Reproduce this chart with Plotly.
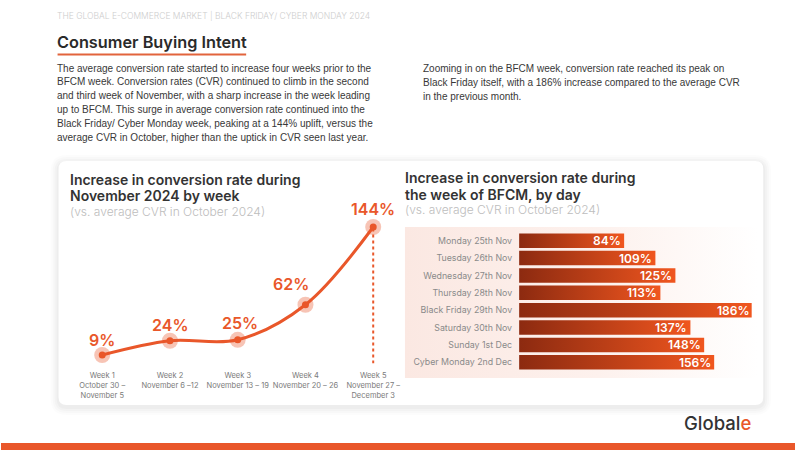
import plotly.graph_objects as go

# ---------------- data ----------------
week_names = ["Week 1", "Week 2", "Week 3", "Week 4", "Week 5"]
week_dates = ["October 30 –<br>November 5", "November 6 –12", "November 13 – 19",
              "November 20 – 26", "November 27 –<br>December 3"]
week_cvr = [9, 24, 25, 62, 144]

day_names = ["Monday 25th Nov", "Tuesday 26th Nov", "Wednesday 27th Nov", "Thursday 28th Nov",
             "Black Friday 29th Nov", "Saturday 30th Nov", "Sunday 1st Dec", "Cyber Monday 2nd Dec"]
day_cvr = [84, 109, 125, 113, 186, 137, 148, 156]

header_text = "THE GLOBAL E-COMMERCE MARKET | BLACK FRIDAY/ CYBER MONDAY 2024"
page_title = "Consumer Buying Intent"
body_left = [
    "The average conversion rate started to increase four weeks prior to the",
    "BFCM week. Conversion rates (CVR) continued to climb in the second",
    "and third week of November, with a sharp increase in the week leading",
    "up to BFCM. This surge in average conversion rate continued into the",
    "Black Friday/ Cyber Monday week, peaking at a 144% uplift, versus the",
    "average CVR in October, higher than the uptick in CVR seen last year.",
]
body_right = [
    "Zooming in on the BFCM week, conversion rate reached its peak on",
    "Black Friday itself, with a 186% increase compared to the average CVR",
    "in the previous month.",
]
left_title = ["Increase in conversion rate during", "November 2024 by week"]
right_title = ["Increase in conversion rate during", "the week of BFCM, by day"]
subtitle = "(vs. average CVR in October 2024)"

# ---------------- styles ----------------
W, H = 800, 450
ORANGE = "#E9572A"
DARK_RED = "#8C2A10"
BAR_ORANGE = "#F0561F"
TITLE_FONT = "Inter"
BODY_FONT = "Liberation Sans"
PAD = 3  # annotation inner padding compensation


def ydom(top_px, bot_px):
    return [1 - bot_px / H, 1 - top_px / H]


def rrect(x0, y0, x1, y1, r):
    return (f"M {x0+r},{y0} L {x1-r},{y0} Q {x1},{y0} {x1},{y0+r} "
            f"L {x1},{y1-r} Q {x1},{y1} {x1-r},{y1} L {x0+r},{y1} "
            f"Q {x0},{y1} {x0},{y1-r} L {x0},{y0+r} Q {x0},{y0} {x0+r},{y0} Z")


fig = go.Figure()

# ---------- decoration layer (pixel axes x/y) ----------
px_panel = [407, 762, 762, 407, 407]
py_panel = [227, 227, 378, 378, 227]
fig.add_trace(go.Scatter(
    x=px_panel, y=py_panel, fill="toself", mode="lines", line=dict(width=0),
    fillgradient=dict(type="horizontal",
                      colorscale=[[0, "#FBE8E2"], [0.55, "#FDF1ED"], [1, "#FFFFFF"]]),
    hoverinfo="skip", showlegend=False, xaxis="x", yaxis="y"))

# ---------- line chart (x2/y2) ----------
xw = list(range(len(week_cvr)))
fig.add_trace(go.Scatter(
    x=[xw[-1], xw[-1]], y=[0, week_cvr[-1]], mode="lines",
    line=dict(color=ORANGE, width=2, dash="dot"),
    hoverinfo="skip", showlegend=False, xaxis="x2", yaxis="y2", cliponaxis=False))
fig.add_trace(go.Scatter(
    x=xw, y=week_cvr, mode="lines",
    line=dict(color=ORANGE, width=3, shape="spline", smoothing=1),
    hoverinfo="skip", showlegend=False, xaxis="x2", yaxis="y2", cliponaxis=False))
fig.add_trace(go.Scatter(
    x=xw, y=week_cvr, mode="markers",
    marker=dict(color="rgba(233,87,42,0.35)", size=16),
    hoverinfo="skip", showlegend=False, xaxis="x2", yaxis="y2", cliponaxis=False))
fig.add_trace(go.Scatter(
    x=xw, y=week_cvr, mode="markers",
    marker=dict(color=ORANGE, size=7),
    hoverinfo="skip", showlegend=False, xaxis="x2", yaxis="y2", cliponaxis=False))

label_shift = [(0, 15), (0, 16), (2, 17), (-14, 21), (0, 18)]
annotations = []
for i, v in enumerate(week_cvr):
    dx, dy = label_shift[i]
    annotations.append(dict(
        x=xw[i], y=v, xref="x2", yref="y2", text=f"{v}%", showarrow=False,
        xshift=dx, yshift=dy, xanchor="center", yanchor="middle",
        font=dict(family=TITLE_FONT, size=16, color=ORANGE, weight=600)))

# ---------- bar chart (x3/y3) ----------
yd = list(range(len(day_cvr)))
half = 0.42
for i, v in enumerate(day_cvr):
    fig.add_trace(go.Scatter(
        x=[0, v, v, 0, 0], y=[yd[i] - half, yd[i] - half, yd[i] + half, yd[i] + half, yd[i] - half],
        fill="toself", mode="lines", line=dict(width=0),
        fillgradient=dict(type="horizontal", colorscale=[[0, DARK_RED], [1, BAR_ORANGE]]),
        hoverinfo="skip", showlegend=False, xaxis="x3", yaxis="y3"))
    annotations.append(dict(
        x=v, y=yd[i], xref="x3", yref="y3", text=f"{v}%", showarrow=False,
        xanchor="right", yanchor="middle", xshift=-1,
        font=dict(family=TITLE_FONT, size=12, color="white", weight=600)))

# ---------- texts ----------
def txt(x, y, s, size, color, family=BODY_FONT, weight=400, xanchor="left"):
    annotations.append(dict(x=x - PAD, y=y, xref="x", yref="y", text=s, showarrow=False,
                            xanchor=xanchor, yanchor="middle",
                            font=dict(family=family, size=size, color=color, weight=weight)))

txt(57, 15, header_text, 8.5, "#CDCDCD", family=TITLE_FONT, weight=300)
txt(57, 42, page_title, 16.3, "#2A2A2A", family=TITLE_FONT, weight=600)
for k, line in enumerate(body_left):
    txt(57, 68 + 13.8 * k, line, 10, "#383838")
for k, line in enumerate(body_right):
    txt(426, 68 + 14.3 * k, line, 10, "#383838")
for k, line in enumerate(left_title):
    txt(71, 179 + 16.5 * k, line, 14, "#333333", family=TITLE_FONT, weight=600)
txt(71, 211, subtitle, 12, "#BDBDBD", family=TITLE_FONT, weight=300)
for k, line in enumerate(right_title):
    txt(408, 177.5 + 16.5 * k, line, 14, "#333333", family=TITLE_FONT, weight=600)
txt(408, 209.5, subtitle, 12, "#BDBDBD", family=TITLE_FONT, weight=300)
txt(689, 423, f"Global<span style='color:{ORANGE}'>e</span>", 18.5, "#333333",
    family=TITLE_FONT, weight=500)

# ---------- shapes ----------
shapes = []
for k, a in enumerate([0.010, 0.014, 0.018, 0.025]):
    g = 8 - 2 * k
    shapes.append(dict(type="path", path=rrect(58 - g, 161 - g + 2, 768 + g, 405 + g + 2, 8 + g),
                       xref="x", yref="y", fillcolor=f"rgba(0,0,0,{a})",
                       line=dict(width=0), layer="below"))
shapes.append(dict(type="path", path=rrect(58, 161, 768, 405, 8), xref="x", yref="y",
                   fillcolor="white", line=dict(width=0), layer="below"))
shapes.append(dict(type="line", x0=57, x1=247, y0=54.5, y1=54.5, xref="x", yref="y",
                   line=dict(color="#E2643C", width=2.2)))
shapes.append(dict(type="rect", x0=0, x1=800, y0=443, y1=450, xref="x", yref="y",
                   fillcolor=ORANGE, line=dict(width=0)))

hidden = dict(visible=False, showgrid=False, zeroline=False, fixedrange=True)
fig.update_layout(
    width=W, height=H, margin=dict(l=0, r=0, t=0, b=0),
    paper_bgcolor="white", plot_bgcolor="rgba(0,0,0,0)",
    showlegend=False, annotations=annotations, shapes=shapes,
    xaxis=dict(domain=[0, 1], range=[0, W], **hidden),
    yaxis=dict(domain=[0, 1], range=[H, 0], **hidden),
    xaxis2=dict(domain=[80 / W, 397 / W], range=[-0.322, 4.322], anchor="y2",
                tickvals=xw, ticktext=[f"{n}<br>{d}" for n, d in zip(week_names, week_dates)],
                tickfont=dict(family=TITLE_FONT, size=7.5, color="#7A7A7A"),
                ticklabelstandoff=6,
                showgrid=False, zeroline=False, showline=False, ticks="", fixedrange=True),
    yaxis2=dict(domain=ydom(220, 363.5), range=[0, 151.4], anchor="x2", **hidden),
    xaxis3=dict(domain=[522 / W, 760 / W], range=[0, 238 / 1.26], anchor="y3", **hidden),
    yaxis3=dict(domain=ydom(232, 371), range=[len(day_cvr) - 0.5, -0.5], anchor="x3",
                tickvals=yd, ticktext=day_names, ticks="", ticklabelstandoff=6,
                tickfont=dict(family=TITLE_FONT, size=8.8, color="#8A8A8A"),
                showgrid=False, zeroline=False, showline=False, fixedrange=True),
)

fig.write_html("out.html")
